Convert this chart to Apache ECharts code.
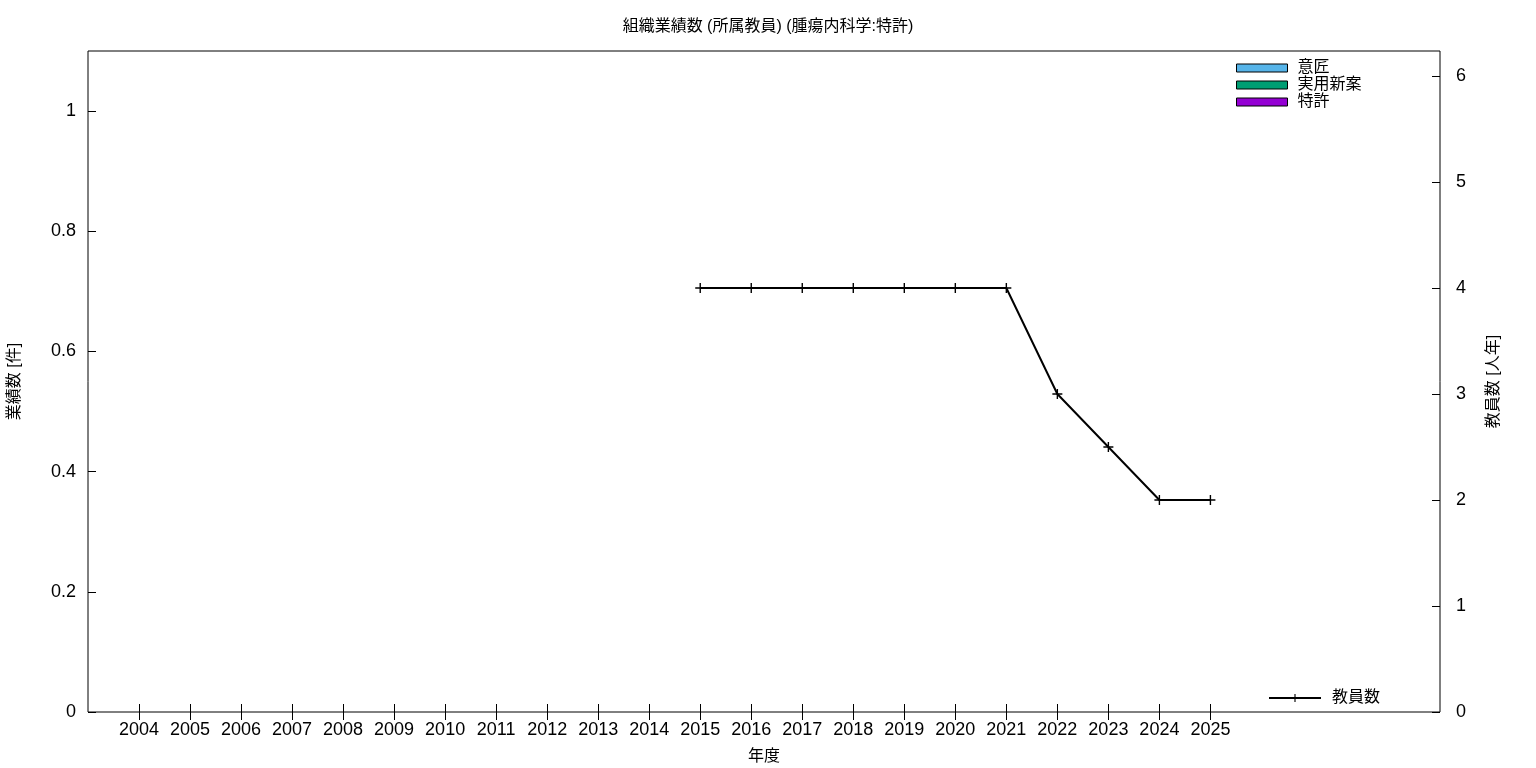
<!DOCTYPE html>
<html>
<head>
<meta charset="utf-8">
<script src="https://cdn.jsdelivr.net/npm/echarts@6/dist/echarts.min.js"></script>
<style>html,body{margin:0;padding:0;background:#fff}#c{width:1536px;height:768px}</style>
</head>
<body>
<div id="c"></div>
<script>
var years = [2004,2005,2006,2007,2008,2009,2010,2011,2012,2013,2014,2015,2016,2017,2018,2019,2020,2021,2022,2023,2024,2025];
var staffYears = [2015,2016,2017,2018,2019,2020,2021,2022,2023,2024,2025];
var staffCounts = [4,4,4,4,4,4,4,3,2.5,2,2];
var designCounts = [];
var utilityCounts = [];
var patentCounts = [];
var leftTicks = [0,0.2,0.4,0.6,0.8,1];
var rightTicks = [0,1,2,3,4,5,6];

var FONT = '"Liberation Sans", "Noto Sans CJK JP", sans-serif';
var chart = echarts.init(document.getElementById('c'), null, {renderer:'canvas'});
var plus = 'path://M0,4.3H10V5.7H0Z M4.3,0H5.7V10H4.3Z';

function xAxisBase(pos, showLabel){
  return {
    type:'value', position:pos, min:2003, max:2029.5, interval:1,
    axisLine:{show:false}, splitLine:{show:false},
    axisTick:{show:true, inside:true, length:8, lineStyle:{color:'#000'}, customValues: years},
    axisLabel:{show:showLabel, customValues: years, color:'#000', fontSize:18, fontFamily:FONT, margin:9,
      formatter:function(v){return String(v);}},
    name: showLabel ? '年度' : '', nameLocation:'middle', nameGap:37,
    nameTextStyle:{color:'#000', fontSize:16, fontFamily:FONT}
  };
}

chart.setOption({
  animation:false,
  backgroundColor:'#fff',
  title:{text:'組織業績数 (所属教員) (腫瘍内科学:特許)', left:'center', top:14,
    textStyle:{color:'#000', fontSize:16, fontWeight:'normal', fontFamily:FONT}},
  grid:{left:88, right:96, top:51, bottom:56, show:true, borderColor:'#000', borderWidth:1, backgroundColor:'transparent',
    containLabel:false, outerBoundsMode:'none'},
  legend:[
    {data:['意匠','実用新案','特許'], orient:'vertical', left:1231, top:55, itemWidth:51, itemHeight:8, itemGap:1,
      icon:'rect', itemStyle:{borderWidth:1, borderColor:'#000'},
      textStyle:{color:'#000', fontSize:16, fontFamily:FONT, padding:[0,0,0,5]}},
    {data:['教員数'], orient:'vertical', left:1263, top:685, itemWidth:52, itemHeight:10,
      textStyle:{color:'#000', fontSize:16, fontFamily:FONT, padding:[0,0,0,6]}}
  ],
  xAxis:[xAxisBase('bottom', true), xAxisBase('top', false)],
  yAxis:[
    {type:'value', min:0, max:1.1, interval:0.2, position:'left',
      axisLine:{show:false}, splitLine:{show:false},
      axisTick:{show:true, inside:true, length:8, lineStyle:{color:'#000'}, customValues:leftTicks},
      axisLabel:{color:'#000', fontSize:18, fontFamily:FONT, margin:12, customValues:leftTicks},
      name:'業績数 [件]', nameLocation:'middle', nameGap:65, nameRotate:90,
      nameTextStyle:{color:'#000', fontSize:16, fontFamily:FONT}},
    {type:'value', min:0, max:6.236, interval:1, position:'right',
      axisLine:{show:false}, splitLine:{show:false},
      axisTick:{show:true, inside:true, length:8, lineStyle:{color:'#000'}, customValues:rightTicks},
      axisLabel:{color:'#000', fontSize:18, fontFamily:FONT, margin:16, customValues:rightTicks},
      name:'教員数 [人年]', nameLocation:'middle', nameGap:46, nameRotate:90,
      nameTextStyle:{color:'#000', fontSize:16, fontFamily:FONT}}
  ],
  series:[
    {name:'意匠', type:'bar', xAxisIndex:0, yAxisIndex:0, data:designCounts,
      itemStyle:{color:'#56b4e9', borderColor:'#000', borderWidth:1}},
    {name:'実用新案', type:'bar', xAxisIndex:0, yAxisIndex:0, data:utilityCounts,
      itemStyle:{color:'#009e73', borderColor:'#000', borderWidth:1}},
    {name:'特許', type:'bar', xAxisIndex:0, yAxisIndex:0, data:patentCounts,
      itemStyle:{color:'#9400d3', borderColor:'#000', borderWidth:1}},
    {name:'教員数', type:'line', xAxisIndex:0, yAxisIndex:1,
      data: staffYears.map(function(y,i){return [y, staffCounts[i]];}),
      symbol:plus, symbolSize:10, showAllSymbol:true,
      lineStyle:{color:'#000', width:2}, itemStyle:{color:'#000'}}
  ]
});
</script>
</body>
</html>
